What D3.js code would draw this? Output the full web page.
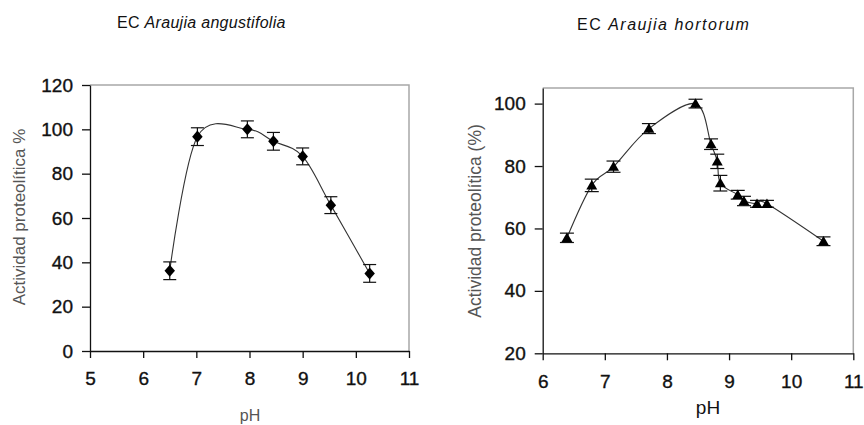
<!DOCTYPE html>
<html>
<head>
<meta charset="utf-8">
<script src="https://cdn.jsdelivr.net/npm/d3@7"></script>
<style>
  body { margin: 0; background: #fff; }
  svg text { font-family: "Liberation Sans", Arial, sans-serif; }
</style>
</head>
<body>
<div id="canvas"></div>
<script>
/*
 * Data
 *
 */
// EC Araujia angustifolia
const phAng = [6.5, 7.02, 7.96, 8.45, 9.0, 9.53, 10.26];
const actAng = [36.2, 96.7, 100, 94.6, 87.8, 65.8, 35];
const errAng = [4, 4, 3.8, 4, 3.8, 3.8, 4];
const xTicksAng = [5, 6, 7, 8, 9, 10, 11];
const yTicksAng = [0, 20, 40, 60, 80, 100, 120];

// EC Araujia hortorum
const phHor = [6.39, 6.79, 7.14, 7.71, 8.46, 8.71, 8.81, 8.86, 9.14, 9.24, 9.45, 9.61, 10.52];
const actHor = [57, 73.8, 79.8, 92, 100, 87, 81.5, 74.5, 70.8, 68.8, 67.9, 67.9, 55.9];
const errHor = [1.5, 2, 1.8, 1.6, 1.4, 1.7, 2.3, 2.5, 1.4, 1.5, 1.1, 1.1, 1.4];
const xTicksHor = [6, 7, 8, 9, 10, 11];
const yTicksHor = [20, 40, 60, 80, 100];

const svgWidth = 864,
  svgHeight = 425;

const svg = d3.select('#canvas').append('svg')
  .attr('width', svgWidth)
  .attr('height', svgHeight);

function drawPanel(p) {
  const xScale = d3.scaleLinear().domain(p.xDomain).range([p.left, p.right]);
  const yScale = d3.scaleLinear().domain(p.yDomain).range([p.bottom, p.top]);
  const g = svg.append('g');

  // light grey frame on top and right
  g.append('path')
    .attr('d', `M${p.left},${p.top}H${p.right}V${p.bottom}`)
    .attr('fill', 'none')
    .attr('stroke', '#a8a8a8')
    .attr('stroke-width', 1.5);

  const bottomAxis = g.append('g')
    .attr('transform', `translate(0,${p.bottom})`)
    .call(d3.axisBottom(xScale).tickValues(p.xTicks).tickFormat(d3.format('d'))
      .tickSize(7).tickSizeOuter(0).tickPadding(14));
  const leftAxis = g.append('g')
    .attr('transform', `translate(${p.left},0)`)
    .call(d3.axisLeft(yScale).tickValues(p.yTicks).tickFormat(d3.format('d'))
      .tickSize(8).tickSizeOuter(0).tickPadding(9));

  [bottomAxis, leftAxis].forEach((a) => {
    a.selectAll('path, line').attr('stroke', '#111').attr('stroke-width', 1.3);
    a.selectAll('text')
      .attr('fill', '#111')
      .attr('stroke', '#111')
      .attr('stroke-width', 0.35)
      .style('font-size', '19px')
      .style('font-family', '"Liberation Sans", Arial, sans-serif');
  });

  // axis titles
  g.append('text')
    .attr('transform', `translate(${p.yLabelX},${p.yLabelY}) rotate(-90)`)
    .attr('text-anchor', 'middle')
    .attr('fill', '#555')
    .style('font-size', p.yLabelSize)
    .text(p.yLabel);

  g.append('text')
    .attr('x', p.xLabelX)
    .attr('y', p.xLabelY)
    .attr('text-anchor', 'middle')
    .attr('fill', p.xLabelColor)
    .style('font-size', p.xLabelSize)
    .text('pH');

  // title
  const title = g.append('text')
    .attr('x', p.titleX)
    .attr('y', p.titleY)
    .attr('fill', '#111')
    .style('font-size', '16px')
    .style('letter-spacing', p.titleSpacing);
  title.append('tspan').text('EC ');
  title.append('tspan').style('font-style', 'italic').text(p.species);

  const data = p.xs.map((x, i) => ({ x: x, y: p.ys[i], e: p.errs[i] }));

  // smoothed line
  g.append('path')
    .datum(data)
    .attr('fill', 'none')
    .attr('stroke', '#333')
    .attr('stroke-width', 1.1)
    .attr('d', d3.line()
      .x((d) => xScale(d.x))
      .y((d) => yScale(d.y))
      .curve(d3.curveCardinal.tension(0)));

  // error bars
  const eb = g.append('g').attr('stroke', '#111').attr('stroke-width', 1.2);
  eb.selectAll('line.v')
    .data(data)
    .enter().append('line')
    .attr('class', 'v')
    .attr('x1', (d) => xScale(d.x)).attr('x2', (d) => xScale(d.x))
    .attr('y1', (d) => yScale(d.y - d.e)).attr('y2', (d) => yScale(d.y + d.e));
  eb.selectAll('line.top')
    .data(data)
    .enter().append('line')
    .attr('class', 'top')
    .attr('x1', (d) => xScale(d.x) - p.cap).attr('x2', (d) => xScale(d.x) + p.cap)
    .attr('y1', (d) => yScale(d.y + d.e)).attr('y2', (d) => yScale(d.y + d.e));
  eb.selectAll('line.bot')
    .data(data)
    .enter().append('line')
    .attr('class', 'bot')
    .attr('x1', (d) => xScale(d.x) - p.cap).attr('x2', (d) => xScale(d.x) + p.cap)
    .attr('y1', (d) => yScale(d.y - d.e)).attr('y2', (d) => yScale(d.y - d.e));

  // markers
  g.selectAll('path.marker')
    .data(data)
    .enter().append('path')
    .attr('class', 'marker')
    .attr('d', d3.symbol().type(p.symbol).size(p.symbolSize))
    .attr('transform', (d) => `translate(${xScale(d.x)},${yScale(d.y)}) ${p.symbolTransform}`)
    .attr('fill', '#000');
}

drawPanel({
  xs: phAng, ys: actAng, errs: errAng,
  xDomain: [5, 11], yDomain: [0, 120],
  xTicks: xTicksAng, yTicks: yTicksAng,
  left: 90, right: 409, top: 85, bottom: 351,
  yLabel: 'Actividad proteolítica %', yLabelX: 25, yLabelY: 217, yLabelSize: '17px',
  xLabelX: 250, xLabelY: 421, xLabelColor: '#555', xLabelSize: '16px',
  titleX: 117, titleY: 28, titleSpacing: '0.3px',
  species: 'Araujia angustifolia',
  cap: 6.5,
  symbol: d3.symbolSquare, symbolSize: 55, symbolTransform: 'scale(1,1.15) rotate(45)'
});

drawPanel({
  xs: phHor, ys: actHor, errs: errHor,
  xDomain: [6, 11], yDomain: [20, 105],
  xTicks: xTicksHor, yTicks: yTicksHor,
  left: 542.7, right: 853.3, top: 88, bottom: 353.3,
  yLabel: 'Actividad proteolítica (%)', yLabelX: 481, yLabelY: 221, yLabelSize: '17.5px',
  xLabelX: 708, xLabelY: 414, xLabelColor: '#111', xLabelSize: '19px',
  titleX: 577, titleY: 30, titleSpacing: '1.5px',
  species: 'Araujia hortorum',
  cap: 7,
  symbol: d3.symbolTriangle, symbolSize: 52, symbolTransform: 'translate(0,1)'
});
</script>
</body>
</html>
